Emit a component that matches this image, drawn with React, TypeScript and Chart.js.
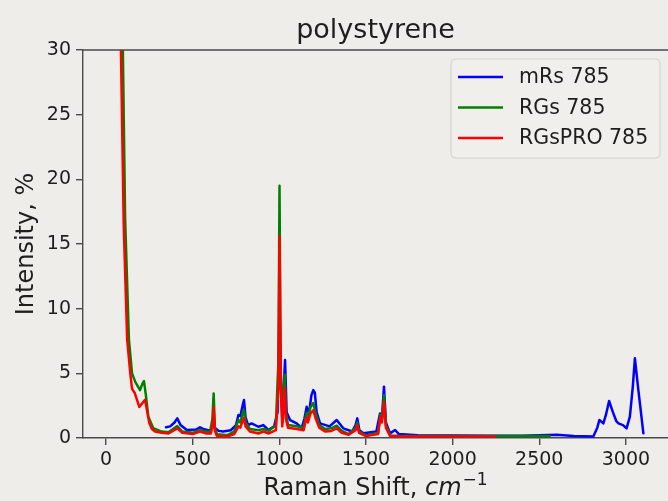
import React, { useEffect, useRef } from "react";
import { Chart, registerables } from "chart.js";

Chart.register(...registerables);

const chartTitle = "polystyrene";
const xLabelMain = "Raman Shift, ";
const xLabelUnit = "cm";
const xLabelExp = "\u22121";
const yLabel = "Intensity, %";

const xTicks = [0, 500, 1000, 1500, 2000, 2500, 3000];
const yTicks = [0, 5, 10, 15, 20, 25, 30];

const seriesNames = ["mRs 785", "RGs 785", "RGsPRO 785"];
const seriesColors = ["#0000ff", "#008000", "#ff0000"];

const mrsX = [346, 370, 395, 411, 430, 466, 520, 542, 560, 600, 614, 620, 627, 650, 676, 720, 750, 764, 775, 788, 796, 805, 820, 840, 879, 908, 937, 970, 990, 1001, 1012, 1020, 1026, 1033, 1042, 1062, 1100, 1129, 1145, 1158, 1170, 1185, 1196, 1205, 1215, 1235, 1290, 1331, 1369, 1420, 1440, 1450, 1462, 1485, 1560, 1581, 1592, 1604, 1615, 1639, 1668, 1690, 1800, 2000, 2200, 2400, 2600, 2700, 2812, 2835, 2847, 2870, 2885, 2903, 2925, 2945, 2957, 2983, 3004, 3023, 3040, 3052, 3072, 3101];
const mrsY = [0.83, 0.9, 1.2, 1.52, 1.0, 0.62, 0.65, 0.83, 0.7, 0.56, 0.9, 1.8, 0.8, 0.55, 0.5, 0.6, 1.0, 1.78, 1.7, 2.5, 2.94, 1.6, 1.0, 1.13, 0.87, 1.0, 0.62, 0.9, 2.0, 10, 3, 1.5, 4, 6.03, 2, 1.39, 1.13, 0.77, 1.5, 2.42, 1.78, 3.3, 3.7, 3.5, 2, 1.13, 0.9, 1.39, 0.75, 0.5, 1.0, 1.52, 0.6, 0.36, 0.5, 1.9, 1.5, 3.97, 1.2, 0.36, 0.62, 0.3, 0.22, 0.2, 0.18, 0.18, 0.25, 0.15, 0.12, 0.8, 1.39, 1.13, 1.8, 2.86, 2.0, 1.3, 1.13, 1.0, 0.75, 1.65, 4, 6.16, 3.7, 0.36];

const rgsX = [88, 97, 110, 132, 150, 170, 196, 210, 219, 230, 244, 272, 321, 360, 411, 440, 500, 542, 600, 614, 621, 628, 640, 700, 740, 764, 775, 790, 796, 805, 830, 880, 908, 940, 980, 995, 1001, 1008, 1017, 1025, 1031, 1038, 1050, 1100, 1140, 1150, 1158, 1165, 1180, 1196, 1210, 1230, 1264, 1300, 1331, 1360, 1400, 1440, 1450, 1460, 1500, 1570, 1583, 1592, 1604, 1615, 1640, 1700, 2000, 2300, 2560];
const rgsY = [34, 30, 17, 7.6, 5.0, 4.3, 3.7, 4.2, 4.4, 3.3, 1.65, 0.77, 0.5, 0.45, 0.93, 0.5, 0.4, 0.6, 0.45, 1.5, 3.45, 0.8, 0.3, 0.22, 0.5, 1.4, 1.2, 2.0, 2.16, 1.2, 0.7, 0.6, 0.7, 0.55, 1.0, 6, 19.5, 5, 1.2, 3.5, 4.9, 2.0, 1.0, 0.9, 0.8, 1.5, 1.95, 1.5, 2.4, 2.7, 1.9, 1.0, 0.7, 0.75, 0.95, 0.55, 0.3, 0.8, 1.2, 0.5, 0.2, 0.4, 1.8, 1.4, 3.3, 1.0, 0.2, 0.15, 0.15, 0.15, 0.15];

const rgsproX = [80, 86, 102, 122, 140, 150, 165, 192, 210, 225, 238, 250, 265, 283, 320, 360, 411, 440, 500, 542, 580, 605, 615, 621, 627, 640, 700, 740, 764, 775, 790, 796, 805, 830, 880, 908, 940, 980, 995, 1001, 1008, 1017, 1025, 1031, 1038, 1050, 1100, 1140, 1150, 1158, 1165, 1180, 1196, 1210, 1230, 1264, 1300, 1331, 1360, 1400, 1440, 1450, 1460, 1500, 1570, 1583, 1592, 1604, 1615, 1640, 1700, 2000, 2245];
const rgsproY = [34, 30, 16.5, 7.6, 5.0, 3.8, 3.5, 2.4, 2.7, 2.95, 2.0, 1.15, 0.7, 0.5, 0.4, 0.35, 0.75, 0.4, 0.3, 0.5, 0.35, 0.35, 1.0, 2.4, 0.6, 0.15, 0.12, 0.3, 0.9, 0.8, 1.4, 1.55, 0.9, 0.5, 0.35, 0.5, 0.35, 0.6, 4, 15.6, 4, 0.9, 2.5, 3.9, 1.5, 0.8, 0.7, 0.6, 1.2, 1.6, 1.2, 1.9, 2.15, 1.5, 0.8, 0.5, 0.55, 0.75, 0.4, 0.25, 0.6, 1.0, 0.4, 0.15, 0.3, 1.6, 1.2, 2.8, 0.8, 0.15, 0.12, 0.12, 0.12];

const toPoints = (xs: number[], ys: number[]) => xs.map((x, i) => ({ x, y: ys[i] }));

const BG = "#eeede9";
const TEXT = "#1e1e1e";
const SPINE = "#4a4a4a";
const FONT = "'DejaVu Sans', sans-serif";

export default function App() {
  const ref = useRef<HTMLCanvasElement | null>(null);

  useEffect(() => {
    if (!ref.current) return;
    const decor = {
      id: "decor",
      beforeDraw(chart: any) {
        const ctx = chart.ctx;
        ctx.save();
        ctx.fillStyle = BG;
        ctx.fillRect(0, 0, chart.width, chart.height);
        ctx.restore();
      },
      afterDraw(chart: any) {
        const ctx = chart.ctx;
        const a = chart.chartArea;
        ctx.save();
        // top spine
        ctx.strokeStyle = SPINE;
        ctx.lineWidth = 1.4;
        ctx.beginPath();
        ctx.moveTo(a.left, a.top);
        ctx.lineTo(a.right, a.top);
        ctx.stroke();
        // title
        ctx.fillStyle = TEXT;
        ctx.font = `27px ${FONT}`;
        ctx.textAlign = "center";
        ctx.textBaseline = "alphabetic";
        ctx.fillText(chartTitle, (a.left + a.right) / 2, 38);
        // x label
        const cx = (a.left + a.right) / 2;
        ctx.font = `24px ${FONT}`;
        const w1 = ctx.measureText(xLabelMain).width;
        ctx.font = `italic 24px ${FONT}`;
        const w2 = ctx.measureText(xLabelUnit).width;
        ctx.font = `17px ${FONT}`;
        const w3 = ctx.measureText(xLabelExp).width;
        const total = w1 + w2 + 1 + w3;
        let x0 = cx - total / 2;
        const by = 495;
        ctx.textAlign = "left";
        ctx.font = `24px ${FONT}`;
        ctx.fillText(xLabelMain, x0, by);
        x0 += w1;
        ctx.font = `italic 24px ${FONT}`;
        ctx.fillText(xLabelUnit, x0, by);
        x0 += w2 + 1;
        ctx.font = `17px ${FONT}`;
        ctx.fillText(xLabelExp, x0, by - 10);
        // y label
        ctx.save();
        ctx.translate(32.5, (a.top + a.bottom) / 2);
        ctx.rotate(-Math.PI / 2);
        ctx.font = `24px ${FONT}`;
        ctx.textAlign = "center";
        ctx.fillText(yLabel, 0, 0);
        ctx.restore();
        // legend
        const lx = 451, ly = 59, lw = 209, lh = 99, r = 5;
        ctx.beginPath();
        ctx.moveTo(lx + r, ly);
        ctx.lineTo(lx + lw - r, ly);
        ctx.quadraticCurveTo(lx + lw, ly, lx + lw, ly + r);
        ctx.lineTo(lx + lw, ly + lh - r);
        ctx.quadraticCurveTo(lx + lw, ly + lh, lx + lw - r, ly + lh);
        ctx.lineTo(lx + r, ly + lh);
        ctx.quadraticCurveTo(lx, ly + lh, lx, ly + lh - r);
        ctx.lineTo(lx, ly + r);
        ctx.quadraticCurveTo(lx, ly, lx + r, ly);
        ctx.closePath();
        ctx.fillStyle = "rgba(255,255,255,0.15)";
        ctx.fill();
        ctx.strokeStyle = "#d4d4d1";
        ctx.lineWidth = 1.2;
        ctx.stroke();
        const rows = [77, 107.5, 138];
        seriesNames.forEach((name, i) => {
          ctx.strokeStyle = seriesColors[i];
          ctx.lineWidth = 2.5;
          ctx.beginPath();
          ctx.moveTo(458, rows[i]);
          ctx.lineTo(503, rows[i]);
          ctx.stroke();
          ctx.fillStyle = TEXT;
          ctx.font = `20.5px ${FONT}`;
          ctx.textAlign = "left";
          ctx.textBaseline = "middle";
          ctx.fillText(name, 519, rows[i] + 1);
        });
        ctx.restore();
      },
    };

    const chart = new Chart(ref.current, {
      type: "line",
      data: {
        datasets: [
          { label: seriesNames[0], data: toPoints(mrsX, mrsY), borderColor: seriesColors[0], order: 3 },
          { label: seriesNames[1], data: toPoints(rgsX, rgsY), borderColor: seriesColors[1], order: 2 },
          { label: seriesNames[2], data: toPoints(rgsproX, rgsproY), borderColor: seriesColors[2], order: 1 },
        ],
      },
      options: {
        responsive: false,
        animation: false,
        devicePixelRatio: 1,
        elements: {
          line: { borderWidth: 2.5, tension: 0, borderJoinStyle: "round", borderCapStyle: "round", fill: false },
          point: { radius: 0 },
        },
        layout: { padding: { top: 50, right: 0, left: 0, bottom: 0 } },
        plugins: { legend: { display: false }, title: { display: false }, tooltip: { enabled: false } },
        scales: {
          x: {
            type: "linear",
            min: -133,
            max: 3243,
            afterBuildTicks: (s: any) => { s.ticks = xTicks.map((v) => ({ value: v })); },
            afterFit: (s: any) => { s.height = 63; },
            ticks: { color: TEXT, font: { family: FONT, size: 19 }, padding: 4, maxRotation: 0, autoSkip: false, callback: (v: any) => String(v) },
            grid: { drawOnChartArea: false, drawTicks: true, tickLength: 7, color: SPINE, lineWidth: 1.4 },
            border: { display: true, color: SPINE, width: 1.4 },
          },
          y: {
            type: "linear",
            min: 0,
            max: 30,
            afterBuildTicks: (s: any) => { s.ticks = yTicks.map((v) => ({ value: v })); },
            afterFit: (s: any) => { s.width = 83; },
            ticks: { color: TEXT, font: { family: FONT, size: 19 }, padding: 5, autoSkip: false, callback: (v: any) => String(v) },
            grid: { drawOnChartArea: false, drawTicks: true, tickLength: 7, color: SPINE, lineWidth: 1.4 },
            border: { display: true, color: SPINE, width: 1.4 },
          },
        },
      },
      plugins: [decor],
    } as any);
    return () => chart.destroy();
  }, []);

  return (
    <div style={{ position: "absolute", left: 0, top: 0, width: 668, height: 501, background: BG, overflow: "hidden" }}>
      <canvas ref={ref} width={668} height={501} style={{ display: "block", width: 668, height: 501 }} />
    </div>
  );
}
